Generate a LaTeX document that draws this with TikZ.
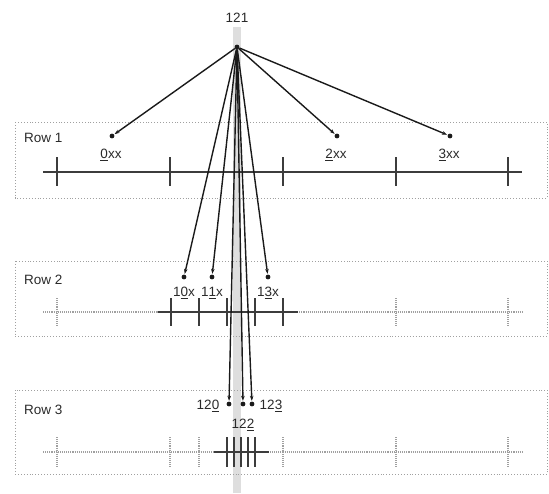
\documentclass[tikz,border=0pt]{standalone}
\usepackage{fontspec}
\setmainfont{Liberation Sans}
\usetikzlibrary{arrows.meta}
\definecolor{ink}{HTML}{1A1A1A}
\definecolor{txt}{HTML}{2A2A2A}
\definecolor{faint}{HTML}{A0A0A0}
\definecolor{band}{HTML}{DEDEDE}
\begin{document}
\begin{tikzpicture}[x=1pt,y=-1pt,
  lbl/.style={text=txt,font=\fontsize{13.5}{15}\selectfont,inner sep=0pt},
  rowbox/.style={draw=faint,dotted,line width=0.9pt},
  axisdark/.style={draw=ink!85,line width=1.6pt},
  tickdark/.style={draw=ink!85,line width=1.4pt},
  axisfaint/.style={draw=faint,densely dotted,line width=1.1pt},
  tickfaint/.style={draw=faint,densely dotted,line width=1.1pt},
  pt/.style={circle,fill=ink,inner sep=0pt,minimum size=4.8pt},
  conn/.style={draw=ink,line width=1.4pt,-{Stealth[length=5pt,width=3.6pt]},shorten >=0.6pt}]
\useasboundingbox (0,0) rectangle (549,493);
% vertical band
\fill[band] (233,27) rectangle (241,493);
% row boxes
\draw[rowbox] (15,122) rectangle (547,198);
\draw[rowbox] (15,261) rectangle (547,336);
\draw[rowbox] (15,390) rectangle (547,474);
\node[lbl,anchor=west] (r1) at (24,138) {Row 1};
\node[lbl,anchor=west] (r2) at (24,280) {Row 2};
\node[lbl,anchor=west] (r3) at (24,410) {Row 3};
% Row 1 axis
\draw[axisdark] (43,172) -- (522,172);
\foreach \x in {57,170,283,396,508} \draw[tickdark] (\x,157) -- (\x,186);
% Row 2 axis
\draw[axisfaint] (43,312) -- (522,312);
\foreach \x in {57,396,508} \draw[tickfaint] (\x,298) -- (\x,326);
\draw[axisdark] (158,312) -- (298,312);
\foreach \x in {171,199,227,255,283} \draw[tickdark] (\x,298) -- (\x,326);
% Row 3 axis
\draw[axisfaint] (43,452) -- (522,452);
\foreach \x in {57,170,199,283,396,508} \draw[tickfaint] (\x,437) -- (\x,467);
\draw[axisdark] (214,452) -- (269,452);
\foreach \x in {227,234,241,248,255} \draw[tickdark] (\x,437) -- (\x,467);
% source
\node[lbl] (t121) at (237,18) {121};
\node[pt] (src) at (237,47) {};
% target dots
\node[pt] (d0) at (112,136) {};
\node[pt] (d2) at (337,136) {};
\node[pt] (d3) at (450,136) {};
\node[pt] (d10) at (184,277) {};
\node[pt] (d11) at (212,277) {};
\node[pt] (d13) at (268,277) {};
\node[pt] (d120) at (229,404) {};
\node[pt] (d122) at (243,404) {};
\node[pt] (d123) at (252,404) {};
% labels
\node[lbl] (l0) at (111,155) {\underline{0}xx};
\node[lbl] (l2) at (336,155) {\underline{2}xx};
\node[lbl] (l3) at (449,155) {\underline{3}xx};
\node[lbl] (l10) at (184,293) {1\underline{0}x};
\node[lbl] (l11) at (212,293) {1\underline{1}x};
\node[lbl] (l13) at (268,293) {1\underline{3}x};
\node[lbl] (l120) at (208,406) {12\underline{0}};
\node[lbl] (l123) at (271,406) {12\underline{3}};
\node[lbl] (l122) at (243,425) {12\underline{2}};
% connectors
\foreach \t in {d0,d2,d3,d10,d11,d13,d120,d122,d123}
  \draw[conn] (src) -- (\t);
\end{tikzpicture}
\end{document}
